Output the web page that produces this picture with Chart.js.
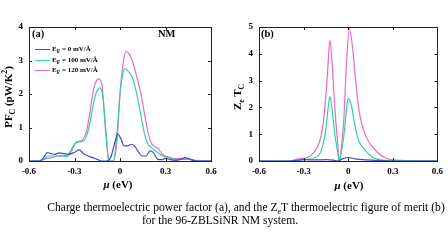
<!DOCTYPE html>
<html>
<head>
<meta charset="utf-8">
<script src="https://cdn.jsdelivr.net/npm/chart.js@4"></script>
<style>
  body { margin: 0; background: #fff; }
  #wrap { position: relative; width: 448px; height: 252px; overflow: hidden; font-family: "Liberation Serif", "Times New Roman", serif; color: #000; }
  canvas { position: absolute; top: 0; }
  .lbl { position: absolute; white-space: nowrap; font-weight: bold; line-height: 1; }
  .rot { transform: translate(-50%, -50%) rotate(-90deg); }
  .ctr { transform: translate(-50%, -50%); }
  .lbl sub, .lbl sup { font-size: 70%; line-height: 0; }
  .leg { position: absolute; left: 35px; font-size: 7px; font-weight: bold; white-space: nowrap; line-height: 1; }
  .leg span.sw { display: inline-block; width: 15px; height: 0; border-top: 1.3px solid; vertical-align: middle; margin-right: 2px; }
  .cap { position: absolute; white-space: nowrap; font-size: 11.6px; transform: translateX(-50%); }
</style>
</head>
<body>
<div id="wrap">
  <canvas id="chartA" width="224" height="195" style="left:0;width:224px;height:195px"></canvas>
  <canvas id="chartB" width="224" height="195" style="left:224px;width:224px;height:195px"></canvas>

  <div class="lbl rot" style="left:8px;top:97px;font-size:11px">PF<sub>C</sub> (pW/K<sup>2</sup>)</div>
  <div class="lbl rot" style="left:237px;top:97px;font-size:11px">Z<sub>e</sub> T<sub>C</sub></div>
  <div class="lbl ctr" style="left:118px;top:184px;font-size:11px"><i>μ</i> (eV)</div>
  <div class="lbl ctr" style="left:349px;top:185px;font-size:11px"><i>μ</i> (eV)</div>

  <div class="lbl" style="left:32px;top:29px;font-size:10.5px">(a)</div>
  <div class="lbl" style="left:158px;top:29px;font-size:10.5px">NM</div>
  <div class="lbl" style="left:261px;top:29px;font-size:10.5px">(b)</div>

  <div class="leg" style="top:46px"><span class="sw" style="color:#4a48c8"></span>E<sub>F</sub> = 0 mV/Å</div>
  <div class="leg" style="top:57px"><span class="sw" style="color:#2dd3a3"></span>E<sub>F</sub> = 100 mV/Å</div>
  <div class="leg" style="top:67px"><span class="sw" style="color:#e86ac6"></span>E<sub>F</sub> = 120 mV/Å</div>

  <div class="cap" style="left:246px;top:201px">Charge thermoelectric power factor (a), and the Z<sub style="font-size:70%">e</sub>T thermoelectric figure of merit (b)</div>
  <div class="cap" style="left:220px;top:214px">for the 96-ZBLSiNR NM system.</div>
</div>

<script>
// --------- Series names & colours ---------
const seriesLabels = ['EF = 0 mV/Å', 'EF = 100 mV/Å', 'EF = 120 mV/Å'];
const seriesColors = ['#4a48c8', '#2dd3a3', '#e86ac6'];

// --------- Axis ticks ---------
const muTicks = [-0.6, -0.3, 0, 0.3, 0.6];
const pfTicks = [0, 1, 2, 3, 4];
const ztTicks = [0, 1, 2, 3, 4, 5];

// --------- (a) power factor PF_C (pW/K^2) ---------
const pfMu0 = [-0.6, -0.53, -0.5, -0.48, -0.46, -0.43, -0.4, -0.37, -0.34, -0.3, -0.27, -0.24, -0.21, -0.18, -0.15, -0.12, -0.09, -0.06, -0.04, -0.015, 0.01, 0.026, 0.05, 0.077, 0.1, 0.125, 0.145, 0.17, 0.2, 0.22, 0.25, 0.28, 0.3, 0.33, 0.37, 0.4, 0.43, 0.46, 0.5, 0.6];
const pf0   = [0, 0, 0.12, 0.25, 0.23, 0.2, 0.24, 0.22, 0.2, 0.26, 0.33, 0.22, 0.15, 0.1, 0.05, 0, 0, 0.12, 0.45, 0.8, 0.62, 0.45, 0.45, 0.5, 0.42, 0.25, 0.15, 0.15, 0.3, 0.25, 0.05, 0.04, 0.08, 0.04, 0.02, 0.05, 0.1, 0.06, 0, 0];

const pfMu100 = [-0.6, -0.53, -0.5, -0.47, -0.42, -0.38, -0.35, -0.32, -0.29, -0.25, -0.22, -0.2, -0.18, -0.16, -0.13, -0.11, -0.09, -0.075, -0.045, -0.02, 0, 0.02, 0.03, 0.05, 0.08, 0.1, 0.12, 0.14, 0.16, 0.18, 0.2, 0.22, 0.25, 0.28, 0.32, 0.36, 0.4, 0.45, 0.5, 0.6];
const pf100   = [0, 0, 0.08, 0.15, 0.15, 0.15, 0.13, 0.3, 0.55, 0.58, 0.75, 1.1, 1.6, 2.0, 2.18, 1.8, 0.7, 0, 0, 0.8, 2.0, 2.65, 2.75, 2.7, 2.5, 2.2, 1.8, 1.3, 0.85, 0.55, 0.42, 0.35, 0.25, 0.15, 0.1, 0.05, 0.05, 0.05, 0, 0];

const pfMu120 = [-0.6, -0.53, -0.5, -0.45, -0.4, -0.35, -0.3, -0.28, -0.25, -0.22, -0.2, -0.18, -0.16, -0.14, -0.12, -0.1, -0.08, -0.07, -0.045, -0.02, 0, 0.02, 0.04, 0.06, 0.08, 0.1, 0.12, 0.14, 0.16, 0.18, 0.2, 0.22, 0.25, 0.28, 0.32, 0.36, 0.4, 0.45, 0.5, 0.6];
const pf120   = [0, 0, 0.05, 0.1, 0.15, 0.17, 0.5, 0.58, 0.62, 0.9, 1.4, 2.0, 2.35, 2.45, 2.3, 1.2, 0.2, 0, 0, 0.6, 2.0, 2.9, 3.27, 3.2, 3.0, 2.7, 2.35, 1.95, 1.45, 0.95, 0.6, 0.45, 0.38, 0.2, 0.12, 0.07, 0.08, 0.06, 0.02, 0];

// --------- (b) figure of merit Ze Tc ---------
const ztMu0 = [-0.6, -0.4, -0.3, -0.2, -0.15, -0.1, -0.07, -0.03, 0, 0.05, 0.1, 0.2, 0.3, 0.6];
const zt0   = [0, 0, 0.05, 0.04, 0.05, 0.03, 0, 0.1, 0.13, 0.08, 0.05, 0.02, 0, 0];

const ztMu100 = [-0.6, -0.35, -0.3, -0.2, -0.17, -0.15, -0.13, -0.123, -0.11, -0.09, -0.07, -0.06, -0.05, -0.03, -0.01, 0, 0.02, 0.04, 0.06, 0.08, 0.1, 0.13, 0.16, 0.2, 0.25, 0.6];
const zt100   = [0, 0, 0.05, 0.2, 0.6, 1.2, 2.2, 2.4, 2.0, 1.0, 0.3, 0, 0.2, 0.9, 2.0, 2.34, 2.1, 1.5, 0.95, 0.65, 0.5, 0.3, 0.15, 0.06, 0.02, 0];

const ztMu120 = [-0.6, -0.4, -0.33, -0.3, -0.25, -0.2, -0.18, -0.16, -0.14, -0.123, -0.11, -0.09, -0.07, -0.06, -0.05, -0.03, -0.01, 0.008, 0.03, 0.05, 0.07, 0.09, 0.11, 0.14, 0.17, 0.2, 0.25, 0.3, 0.6];
const zt120   = [0, 0, 0.08, 0.1, 0.2, 0.6, 1.0, 1.8, 3.2, 4.5, 3.8, 2.0, 0.6, 0, 0.3, 1.5, 3.8, 4.93, 4.2, 3.0, 2.0, 1.4, 1.05, 0.7, 0.5, 0.3, 0.12, 0.04, 0];


// --------- Helpers ---------
const toPoints = (xs, ys) => xs.map((x, i) => ({ x: x, y: ys[i] }));

const makeDataset = (i, xs, ys) => ({
    label: seriesLabels[i],
    data: toPoints(xs, ys),
    borderColor: seriesColors[i],
    borderWidth: 1.2,
    pointRadius: 0,
    cubicInterpolationMode: 'monotone',
    fill: false,
    clip: 3
});

const tickFont = { family: 'Liberation Serif', size: 9, weight: 'bold' };

// frame + inward ticks on all four sides
const framePlugin = {
    id: 'frame',
    afterDatasetsDraw(chart) {
        const { ctx, chartArea: a, scales } = chart;
        ctx.save();
        ctx.strokeStyle = '#222';
        ctx.lineWidth = 1;
        ctx.strokeRect(Math.round(a.left) + 0.5, Math.round(a.top) + 0.5, Math.round(a.right - a.left), Math.round(a.bottom - a.top));
        ctx.beginPath();
        scales.x.ticks.forEach((t) => {
            const px = Math.round(scales.x.getPixelForValue(t.value)) + 0.5;
            ctx.moveTo(px, a.bottom); ctx.lineTo(px, a.bottom - 3);
            ctx.moveTo(px, a.top); ctx.lineTo(px, a.top + 3);
        });
        scales.y.ticks.forEach((t) => {
            const py = Math.round(scales.y.getPixelForValue(t.value)) + 0.5;
            ctx.moveTo(a.left, py); ctx.lineTo(a.left + 3, py);
            ctx.moveTo(a.right, py); ctx.lineTo(a.right - 3, py);
        });
        ctx.stroke();
        ctx.restore();
    }
};

const makeOptions = (yTicks, yWidth, rightPad) => ({
    responsive: false,
    animation: false,
    layout: { padding: { top: 27, right: rightPad, left: 0, bottom: 0 } },
    plugins: { legend: { display: false }, tooltip: { enabled: false } },
    scales: {
        x: {
            type: 'linear',
            min: muTicks[0],
            max: muTicks[muTicks.length - 1],
            afterBuildTicks: (scale) => { scale.ticks = muTicks.map((v) => ({ value: v })); },
            afterFit: (scale) => { scale.height = 34; },
            grid: { display: false, drawTicks: false },
            border: { display: false },
            ticks: {
                font: tickFont,
                color: '#000',
                padding: 5,
                maxRotation: 0,
                callback: (v) => v === 0 ? '0' : Number(v).toFixed(1)
            }
        },
        y: {
            min: yTicks[0],
            max: yTicks[yTicks.length - 1],
            afterBuildTicks: (scale) => { scale.ticks = yTicks.map((v) => ({ value: v })); },
            afterFit: (scale) => { scale.width = yWidth; },
            grid: { display: false, drawTicks: false },
            border: { display: false },
            ticks: { font: tickFont, color: '#000', padding: 6 }
        }
    }
});

// --------- Charts ---------
new Chart(document.getElementById('chartA'), {
    type: 'line',
    data: {
        datasets: [
            makeDataset(0, pfMu0, pf0),
            makeDataset(1, pfMu100, pf100),
            makeDataset(2, pfMu120, pf120)
        ]
    },
    options: makeOptions(pfTicks, 29, 13),
    plugins: [framePlugin]
});

new Chart(document.getElementById('chartB'), {
    type: 'line',
    data: {
        datasets: [
            makeDataset(0, ztMu0, zt0),
            makeDataset(1, ztMu100, zt100),
            makeDataset(2, ztMu120, zt120)
        ]
    },
    options: makeOptions(ztTicks, 35, 8),
    plugins: [framePlugin]
});
</script>
</body>
</html>
